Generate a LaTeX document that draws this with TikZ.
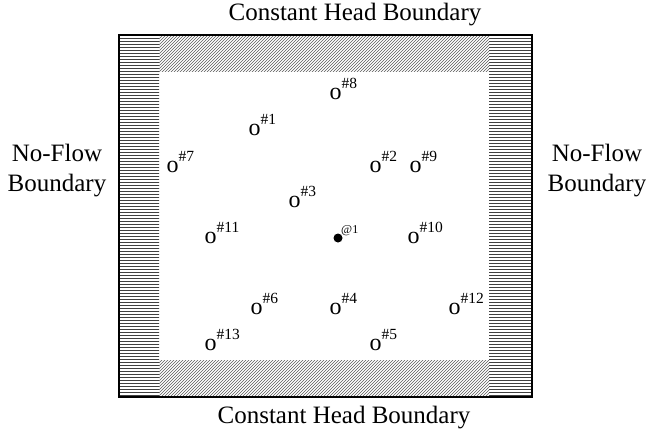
\documentclass[tikz,border=0pt]{standalone}
\usepackage{fontspec}
\setmainfont{Liberation Serif}
\usetikzlibrary{patterns}
\tikzset{
  bigtext/.style={font=\fontsize{25}{30}\selectfont, align=center, inner sep=0pt},
  well/.style={font=\fontsize{24}{24}\selectfont, inner sep=0pt, anchor=base west},
  box/.style={draw=black, line width=1.2pt},
  sideband/.style={pattern=horizontal lines, pattern color=black!75},
  headband/.style={pattern=north east lines, pattern color=black!65},
}
\newcommand{\wl}[1]{o\raisebox{11.5pt}{\fontsize{15.5}{15.5}\selectfont\##1}}
\begin{document}
\begin{tikzpicture}[x=1pt,y=-1pt]
\useasboundingbox (0,0) rectangle (646,432);
% bands
\fill[sideband] (119,35) rectangle (159,397);
\fill[sideband] (489,35) rectangle (532,397);
\fill[headband] (159,35) rectangle (489,71);
\fill[headband] (159,360) rectangle (489,397);
\draw[box] (119,35) rectangle (532,397);
% labels
\node[bigtext] (top) at (355,15) {Constant Head Boundary};
\node[bigtext] (bot) at (344,418) {Constant Head Boundary};
\node[bigtext] (left) at (57,171) {No-Flow\\Boundary};
\node[bigtext] (right) at (597,171) {No-Flow\\Boundary};
% wells
\node[well] (w8) at (329.4,99.5) {\wl{8}};
\node[well] (w1) at (248.4,135.5) {\wl{1}};
\node[well] (w7) at (166.4,172.5) {\wl{7}};
\node[well] (w2) at (369.4,172.5) {\wl{2}};
\node[well] (w9) at (409.4,172.5) {\wl{9}};
\node[well] (w3) at (288.4,207.5) {\wl{3}};
\node[well] (w11) at (204.4,243.5) {\wl{11}};
\node[well] (w10) at (407.4,243.5) {\wl{10}};
\node[well] (w6) at (250.4,314.5) {\wl{6}};
\node[well] (w4) at (329.4,314.5) {\wl{4}};
\node[well] (w12) at (448.4,314.5) {\wl{12}};
\node[well] (w13) at (204.4,350.5) {\wl{13}};
\node[well] (w5) at (369.4,350.5) {\wl{5}};
% pumping well
\fill (338,238) circle (4.5) coordinate (p1);
\node[font=\fontsize{12}{12}\selectfont, inner sep=0pt, anchor=base west] (p1lab) at (341,233) {@1};
\end{tikzpicture}
\end{document}
